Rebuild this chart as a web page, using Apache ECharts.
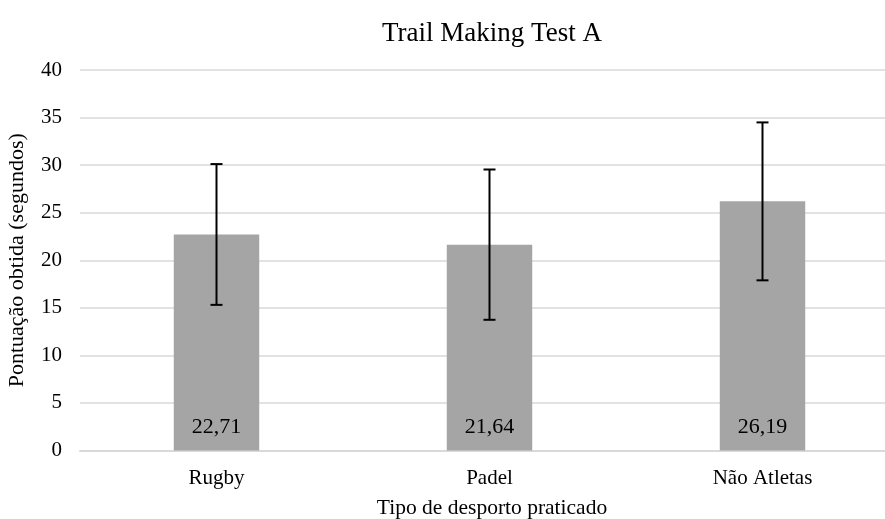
<!DOCTYPE html>
<html>
<head>
<meta charset="utf-8">
<script src="https://cdn.jsdelivr.net/npm/echarts@6/dist/echarts.min.js"></script>
<style>html,body{margin:0;padding:0;background:#fff;}#c{width:885px;height:519px;}</style>
</head>
<body>
<div id="c"></div>
<script>
const categories = ['Rugby', 'Padel', 'Não Atletas'];
const means = [22.71, 21.64, 26.19];
const errors = [7.4, 7.9, 8.3];
const yTicks = [0, 5, 10, 15, 20, 25, 30, 35, 40];

const FONT = '"Liberation Serif", "Times New Roman", serif';
const chart = echarts.init(document.getElementById('c'), null, {renderer: 'canvas'});

const errData = categories.map((c, i) => [i, means[i] - errors[i], means[i] + errors[i]]);

chart.setOption({
  animation: false,
  backgroundColor: '#ffffff',
  title: {
    text: 'Trail Making Test A',
    left: 487, top: 15, textAlign: 'center',
    textStyle: {fontFamily: FONT, fontSize: 27, fontWeight: 'normal', color: '#000'}
  },
  grid: {left: 80, top: 70, width: 819, height: 380.5, containLabel: false, outerBoundsMode: 'none'},
  xAxis: {
    type: 'category',
    data: categories,
    name: 'Tipo de desporto praticado',
    nameLocation: 'middle',
    nameGap: 47,
    nameTextStyle: {fontFamily: FONT, fontSize: 21.5, color: '#000', padding: [0, 0, 0, 5]},
    axisLine: {show: true, lineStyle: {color: '#d9d9d9', width: 2}},
    axisTick: {show: false},
    axisLabel: {fontFamily: FONT, fontSize: 21, color: '#000', margin: 17}
  },
  yAxis: {
    type: 'value',
    min: 0, max: 40, interval: 5,
    name: 'Pontuação obtida (segundos)',
    nameLocation: 'middle',
    nameGap: 52,
    nameRotate: 90,
    nameTextStyle: {fontFamily: FONT, fontSize: 22, color: '#000'},
    axisLine: {show: false},
    axisTick: {show: false},
    axisLabel: {fontFamily: FONT, fontSize: 21, color: '#000', margin: 18,
      formatter: v => yTicks.includes(v) ? String(v) : ''},
    splitLine: {lineStyle: {color: '#d9d9d9', width: 1.5}}
  },
  series: [
    {
      type: 'bar',
      data: means,
      barWidth: '31.3%',
      itemStyle: {color: '#a5a5a5'},
      label: {
        show: true, position: 'insideBottom', distance: 12,
        fontFamily: FONT, fontSize: 22, color: '#000',
        formatter: p => p.value.toFixed(2).replace('.', ',')
      },
      z: 2
    },
    {
      type: 'custom',
      data: errData,
      z: 5,
      renderItem: function (params, api) {
        const x = api.value(0);
        const lo = api.coord([x, api.value(1)]);
        const hi = api.coord([x, api.value(2)]);
        const hw = 6;
        const style = {stroke: '#000', lineWidth: 2};
        return {
          type: 'group',
          children: [
            {type: 'line', shape: {x1: hi[0], y1: hi[1], x2: lo[0], y2: lo[1]}, style},
            {type: 'line', shape: {x1: hi[0] - hw, y1: hi[1], x2: hi[0] + hw, y2: hi[1]}, style},
            {type: 'line', shape: {x1: lo[0] - hw, y1: lo[1], x2: lo[0] + hw, y2: lo[1]}, style}
          ]
        };
      }
    }
  ]
});
</script>
</body>
</html>
